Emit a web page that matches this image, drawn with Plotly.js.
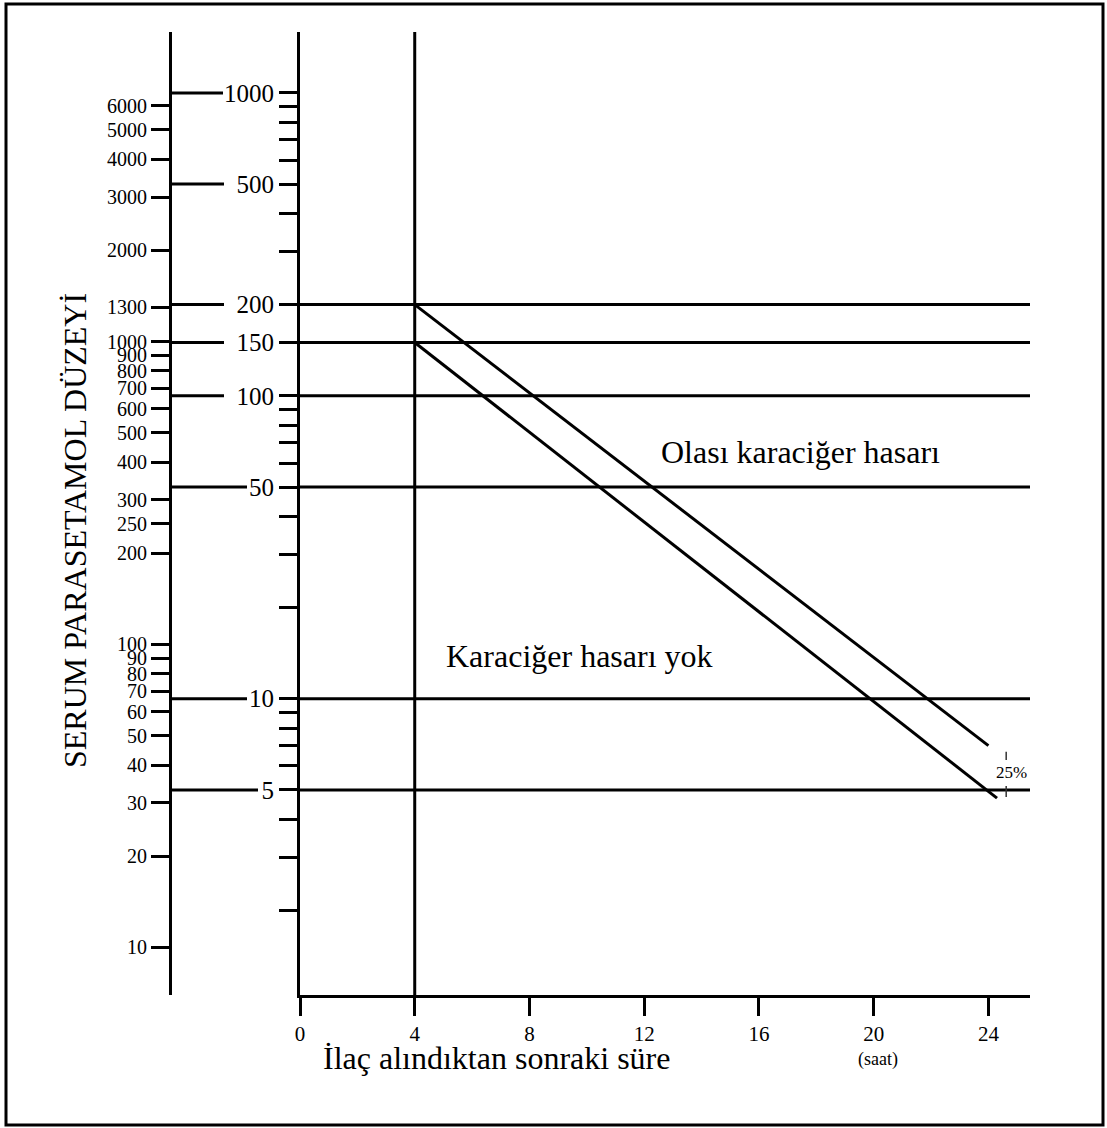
<!DOCTYPE html>
<html>
<head>
<meta charset="utf-8">
<script src="https://cdn.plot.ly/plotly-3.0.1.min.js"></script>
<style>
  html, body { margin: 0; padding: 0; background: #ffffff; }
  #chart { width: 1107px; height: 1128px; }
</style>
</head>
<body>
<div id="chart"></div>
<script>
// ---------------- DATA ----------------
// Time after ingestion (hours)
const timeTicks = [0, 4, 8, 12, 16, 20, 24];

// Right (µg/mL) scale
const mcgMajor = [1000, 500, 200, 150, 100, 50, 10, 5];
const mcgMinor = [900, 800, 700, 600, 400, 300, 90, 80, 70, 60, 40, 30, 20, 9, 8, 7, 6, 4, 3, 2];

// Left (µmol/L) scale
const umolTicks = [6000, 5000, 4000, 3000, 2000, 1300, 1000, 900, 800, 700, 600, 500, 400, 300, 250, 200, 100, 90, 80, 70, 60, 50, 40, 30, 20, 10];
const MOLAR_FACTOR = 6.62; // µg/mL -> µmol/L for paracetamol

// Horizontal reference levels (µg/mL) drawn across the nomogram
const levelLines = [200, 150, 100, 50, 10, 5];

// Treatment lines (time h, level µg/mL)
const upperLineX = [4, 24];
const upperLineY = [200, 7.0];
const lowerLineX = [4, 24.3];
const lowerLineY = [150, 4.7];

// Marker for 25% band
const bandX = 24.62;
const bandTopY = [6.28, 6.68];
const bandBottomY = [4.74, 5.15];
const bandLabelY = 5.7;

const startTime = 4;

// ---------------- LAYOUT HELPERS ----------------
const W = 1107, H = 1128;
const M = { l: 170, r: 77, t: 32, b: 133 };
const plotW = W - M.l - M.r, plotH = H - M.t - M.b;
const px2x = p => (p - M.l) / plotW;          // pixel -> paper x
const px2y = p => (H - M.b - p) / plotH;      // pixel -> paper y
const xDomainStart = px2x(300);

const yRange = [0.022, 3.201];
const yRange2 = yRange.map(v => v + Math.log10(MOLAR_FACTOR));

const FONT = "Liberation Serif, Times New Roman, serif";

// Right axis ticks
const rightTickVals = mcgMajor.concat(mcgMinor).sort((a, b) => a - b);
const rightTickText = rightTickVals.map(v => mcgMajor.includes(v) ? String(v) : "");

// ---------------- TRACES ----------------
const lineStyle = { color: "#000", width: 3 };
const traces = [
  { x: upperLineX, y: upperLineY, mode: "lines", line: lineStyle, hoverinfo: "skip", showlegend: false },
  { x: lowerLineX, y: lowerLineY, mode: "lines", line: lineStyle, hoverinfo: "skip", showlegend: false },
  { x: [null], y: [null], yaxis: "y2", mode: "lines", hoverinfo: "skip", showlegend: false }
];

// ---------------- SHAPES ----------------
const shapes = [];
// connector lines from left axis to right-axis labels
const connectorEndPx = { 1: 258, 2: 247, 3: 224, 4: 223 };
mcgMajor.forEach(v => {
  shapes.push({
    type: "line", xref: "paper", yref: "y",
    x0: 0, x1: px2x(connectorEndPx[String(v).length]), y0: v, y1: v,
    line: { color: "#000", width: 3 }, layer: "above"
  });
});
// level lines across the nomogram
levelLines.forEach(v => {
  shapes.push({
    type: "line", xref: "paper", yref: "y",
    x0: xDomainStart, x1: 1, y0: v, y1: v,
    line: { color: "#000", width: 3 }, layer: "above"
  });
});
// vertical line at 4 h
shapes.push({
  type: "line", xref: "x", yref: "paper",
  x0: startTime, x1: startTime, y0: 0, y1: 1,
  line: { color: "#000", width: 3 }, layer: "above"
});
// 25% band small markers
[bandTopY, bandBottomY].forEach(r => {
  shapes.push({
    type: "line", xref: "x", yref: "y",
    x0: bandX, x1: bandX, y0: r[0], y1: r[1],
    line: { color: "#333", width: 1.5 }, layer: "above"
  });
});
// outer frame
shapes.push({
  type: "rect", xref: "paper", yref: "paper",
  x0: px2x(6), x1: px2x(1103), y0: px2y(1125), y1: px2y(4),
  line: { color: "#000", width: 3 }, fillcolor: "rgba(0,0,0,0)"
});

// ---------------- ANNOTATIONS ----------------
const annotations = [
  { text: "Olası karaciğer hasarı", xref: "paper", yref: "paper",
    x: px2x(800), y: px2y(452), xanchor: "center", yanchor: "middle", showarrow: false,
    font: { family: FONT, size: 32, color: "#000" } },
  { text: "Karaciğer hasarı yok", xref: "paper", yref: "paper",
    x: px2x(579), y: px2y(656), xanchor: "center", yanchor: "middle", showarrow: false,
    font: { family: FONT, size: 32, color: "#000" } },
  { text: "25%", xref: "x", yref: "y", x: bandX + 0.18, y: Math.log10(bandLabelY),
    xanchor: "center", yanchor: "middle", showarrow: false,
    font: { family: FONT, size: 17, color: "#000" } },
  { text: "SERUM PARASETAMOL DÜZEYİ", xref: "paper", yref: "paper",
    x: px2x(75), y: px2y(531), textangle: -90, xanchor: "center", yanchor: "middle", showarrow: false,
    font: { family: FONT, size: 32, color: "#000" } },
  { text: "İlaç alındıktan sonraki süre", xref: "paper", yref: "paper",
    x: px2x(496), y: px2y(1058), xanchor: "center", yanchor: "middle", showarrow: false,
    font: { family: FONT, size: 32, color: "#000" } },
  { text: "(saat)", xref: "paper", yref: "paper",
    x: px2x(878), y: px2y(1059), xanchor: "center", yanchor: "middle", showarrow: false,
    font: { family: FONT, size: 18, color: "#000" } }
];

// ---------------- LAYOUT ----------------
const layout = {
  width: W, height: H,
  margin: M,
  paper_bgcolor: "#fff", plot_bgcolor: "#fff",
  showlegend: false,
  xaxis: {
    domain: [xDomainStart, 1],
    range: [0, 25.45],
    tickvals: timeTicks, ticktext: timeTicks.map(String),
    ticks: "outside", ticklen: 18, tickwidth: 3, tickcolor: "#000",
    showline: true, linewidth: 3, linecolor: "#000",
    showgrid: false, zeroline: false,
    tickfont: { family: FONT, size: 21, color: "#000" }
  },
  yaxis: {
    type: "log", range: yRange, anchor: "x",
    tickvals: rightTickVals, ticktext: rightTickText,
    ticks: "outside", ticklen: 18, tickwidth: 3, tickcolor: "#000",
    showline: true, linewidth: 3, linecolor: "#000",
    showgrid: false, zeroline: false,
    tickfont: { family: FONT, size: 25, color: "#000" }
  },
  yaxis2: {
    type: "log", range: yRange2, overlaying: "y", anchor: "free", position: 0, side: "left",
    tickvals: umolTicks, ticktext: umolTicks.map(String),
    ticks: "outside", ticklen: 18, tickwidth: 3, tickcolor: "#000",
    showline: true, linewidth: 3, linecolor: "#000",
    showgrid: false, zeroline: false,
    tickfont: { family: FONT, size: 20, color: "#000" }
  },
  shapes: shapes,
  annotations: annotations
};

Plotly.newPlot("chart", traces, layout, { displayModeBar: false, staticPlot: true });
</script>
</body>
</html>
